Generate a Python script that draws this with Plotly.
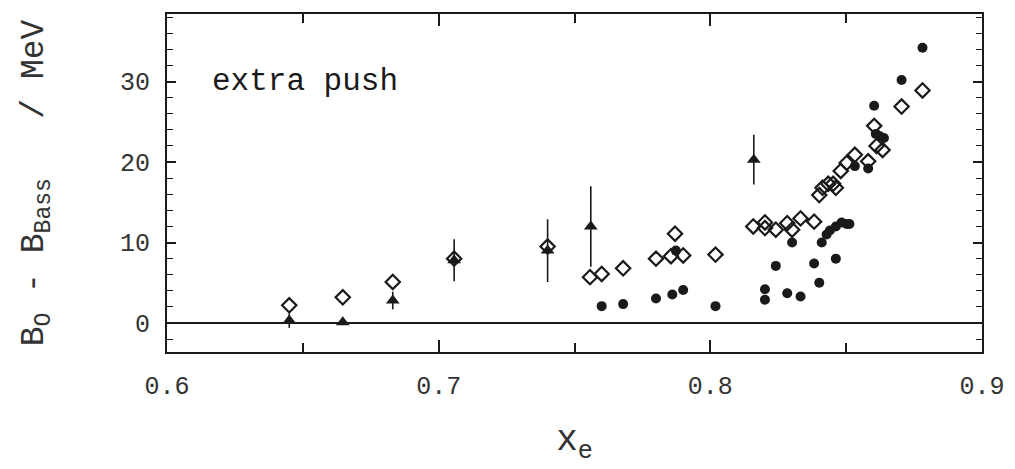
import plotly.graph_objects as go

# Open diamonds
dia_x = [0.645, 0.6647, 0.6831, 0.7057, 0.7401, 0.7557, 0.760, 0.7679, 0.780, 0.7855, 0.787, 0.790,
         0.8019, 0.8158, 0.8201, 0.8201, 0.8241, 0.8283, 0.8301, 0.8332, 0.8382, 0.8401, 0.8413,
         0.8434, 0.8452, 0.8462, 0.848, 0.8502, 0.8532, 0.8581, 0.8603, 0.8612, 0.8634, 0.8704, 0.8781]
dia_y = [2.2, 3.2, 5.1, 8.0, 9.5, 5.7, 6.1, 6.8, 8.0, 8.3, 11.1, 8.4,
         8.5, 12.0, 12.5, 11.8, 11.6, 12.4, 11.6, 13.0, 12.6, 15.9, 16.8,
         17.3, 17.3, 16.8, 18.9, 19.9, 20.9, 20.1, 24.5, 22.0, 21.5, 26.9, 28.9]

# Filled circles
dot_x = [0.760, 0.7679, 0.780, 0.786, 0.7873, 0.790, 0.8019, 0.8201, 0.8201, 0.8241, 0.8283,
         0.8301, 0.8332, 0.8382, 0.8401, 0.8410, 0.8428, 0.8440, 0.8462, 0.8462, 0.8483,
         0.8502, 0.8512, 0.8532, 0.8581, 0.8603, 0.8609, 0.8624, 0.8639, 0.8704, 0.8781]
dot_y = [2.1, 2.35, 3.05, 3.55, 9.0, 4.1, 2.1, 4.2, 2.9, 7.1, 3.7,
         10.0, 3.3, 7.4, 5.0, 10.0, 11.0, 11.5, 8.0, 12.0, 12.5,
         12.3, 12.3, 19.5, 19.2, 27.0, 23.5, 23.2, 23.0, 30.2, 34.2]

# Filled triangles with error bars
tri_x = [0.645, 0.6647, 0.6831, 0.7057, 0.7401, 0.756, 0.816]
tri_y = [0.3, 0.1, 2.8, 7.8, 9.0, 12.0, 20.3]
tri_err = [0.9, 0.3, 1.1, 2.6, 3.9, 5.0, 3.1]

INK = "#1a1a1a"
TXT = "#333333"
FONT = "Liberation Mono"

fig = go.Figure()
fig.add_trace(go.Scatter(
    x=tri_x, y=tri_y, mode="markers",
    marker=dict(symbol="triangle-up", size=12, color=INK),
    error_y=dict(type="data", array=tri_err, visible=True, color=INK, thickness=1.6, width=0),
    showlegend=False))
fig.add_trace(go.Scatter(
    x=dot_x, y=dot_y, mode="markers",
    marker=dict(symbol="circle", size=10, color=INK),
    showlegend=False))
fig.add_trace(go.Scatter(
    x=dia_x, y=dia_y, mode="markers",
    marker=dict(symbol="diamond-open", size=11, color=INK, line=dict(width=2.2, color=INK)),
    showlegend=False))

fig.add_annotation(text="extra push", xref="paper", yref="paper", x=0.053, y=0.80,
                   xanchor="left", yanchor="middle", showarrow=False,
                   font=dict(family=FONT, size=31, color=INK))

fig.update_layout(
    width=1007, height=461,
    margin=dict(l=159, r=33, t=6, b=117, autoexpand=False),
    paper_bgcolor="white", plot_bgcolor="white",
    font=dict(family=FONT, color=TXT),
)
fig.update_xaxes(
    range=[0.6, 0.9], tickvals=[0.6, 0.7, 0.8, 0.9], ticktext=["0.6", "0.7", "0.8", "0.9"],
    ticks="inside", ticklen=12, tickwidth=1.5, tickcolor=INK,
    minor=dict(tickvals=[0.65, 0.75, 0.85], ticks="inside", ticklen=9, tickwidth=1.5, tickcolor=INK),
    showline=True, linecolor=INK, linewidth=2, mirror="ticks",
    showgrid=False, zeroline=False, automargin=False,
    tickfont=dict(family=FONT, size=25, color=TXT), ticklabelstandoff=10,
    title=dict(text="x<sub>e</sub>", font=dict(family=FONT, size=36, color=TXT), standoff=24),
)
fig.update_yaxes(
    range=[-3.6, 38.4], tickvals=[0, 10, 20, 30],
    ticks="inside", ticklen=9, tickwidth=1.5, tickcolor=INK,
    minor=dict(dtick=2, tick0=0, ticks="inside", ticklen=6, tickwidth=1.2, tickcolor=INK),
    showline=True, linecolor=INK, linewidth=2, mirror="ticks",
    showgrid=False, zeroline=True, zerolinecolor=INK, zerolinewidth=1.8, automargin=False,
    tickfont=dict(family=FONT, size=25, color=TXT), ticklabelstandoff=10,
    title=dict(text="B<sub>O</sub> - B<sub>Bass</sub>   / MeV",
               font=dict(family=FONT, size=33, color=TXT), standoff=66),
)

fig.write_html("out.html")
